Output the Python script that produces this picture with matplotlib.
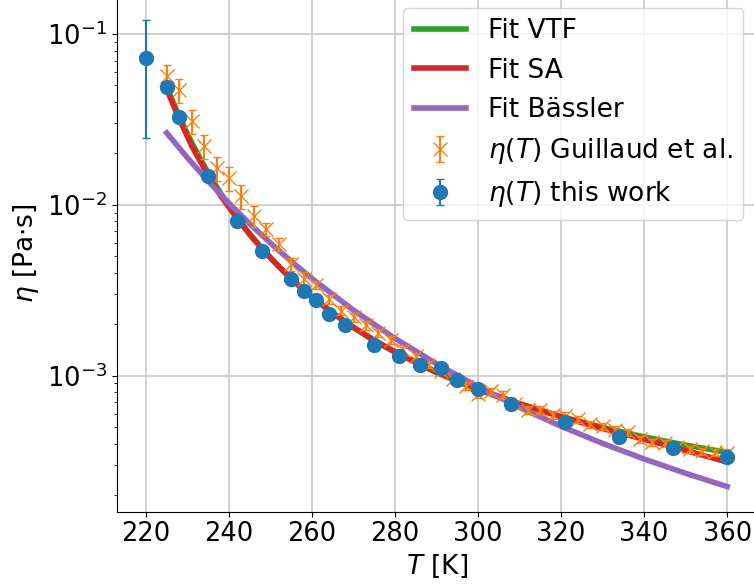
import matplotlib as mpl
mpl.use('Agg')
import matplotlib.pyplot as plt

# measured viscosity, this work
T_this = [220, 225, 228, 235, 242, 248, 255, 258, 261, 264, 268, 275, 281, 286,
          291, 295, 300, 308, 321, 334, 347, 360]
eta_this = [0.0726, 0.0487, 0.0327, 0.0147, 0.00809, 0.00536, 0.00369, 0.00312,
            0.00277, 0.00231, 0.00199, 0.00152, 0.00131, 0.00116, 0.00111,
            0.000937, 0.000839, 0.000679, 0.000536, 0.000440, 0.000376, 0.000336]
err_this = [0.048, 0.0015, 0.001, 0.0004, 0.0002, 0.00015, 0.0001, 0.00009,
            0.00008, 0.00007, 0.00006, 0.00005, 0.00004, 0.00004, 0.00003,
            0.00003, 0.00003, 0.00002, 0.00002, 0.00001, 0.00001, 0.00001]

# Guillaud et al.
T_gui = [225, 228, 231, 234, 237, 240, 243, 246, 249, 252, 255, 258, 261, 264,
         267, 270, 273, 276, 279, 282, 285, 288, 291, 294, 297, 300, 303, 306,
         309, 312, 315, 318, 321, 324, 327, 330, 333, 336, 339, 342, 345, 348,
         351, 354, 357, 360]
eta_gui = [0.057, 0.047, 0.031, 0.022, 0.0165, 0.0143, 0.0112, 0.0086, 0.0072,
           0.0059, 0.0045, 0.0037, 0.0034, 0.0028, 0.0024, 0.0022, 0.00197,
           0.00178, 0.00162, 0.00142, 0.0013, 0.00116, 0.00106, 0.00095,
           0.00087, 0.00078, 0.00081, 0.00077, 0.00068, 0.00063, 0.00063,
           0.00059, 0.00058, 0.000555, 0.00052, 0.000505, 0.00048, 0.000465,
           0.000425, 0.000408, 0.000402, 0.00038, 0.00037, 0.00036, 0.000355,
           0.000352]
relerr_gui = [0.16, 0.16, 0.16, 0.16, 0.16, 0.16, 0.16, 0.14, 0.09, 0.09, 0.09,
              0.09, 0.06, 0.06, 0.06, 0.06, 0.06, 0.06, 0.06, 0.06, 0.05, 0.05,
              0.05, 0.05, 0.05, 0.05, 0.05, 0.05, 0.05, 0.05, 0.05, 0.05, 0.05,
              0.05, 0.05, 0.05, 0.05, 0.05, 0.05, 0.05, 0.05, 0.05, 0.05, 0.05,
              0.05, 0.05]
err_gui = [e * r for e, r in zip(eta_gui, relerr_gui)]

# fit curves
T_fit = [225, 228, 231, 235, 238, 242, 245, 248, 252, 256, 260, 265, 270, 275,
         280, 290, 300, 310, 320, 330, 340, 350, 360]
eta_vtf = [0.0491, 0.0330, 0.0232, 0.01535, 0.01167, 0.00843, 0.00677, 0.00555,
           0.00436, 0.00351, 0.00289, 0.00232, 0.00191, 0.00160, 0.00137,
           0.00104, 0.000826, 0.000681, 0.000576, 0.000498, 0.000438,
           0.000392, 0.000355]
eta_sa = [0.0475, 0.0320, 0.0222, 0.0148, 0.0113, 0.0083, 0.0067, 0.0055,
          0.00435, 0.0035, 0.00289, 0.00233, 0.00192, 0.00161, 0.00138,
          0.00105, 0.000835, 0.000685, 0.000575, 0.000490, 0.000424,
          0.000365, 0.000312]
T_bas = [225, 230, 235, 240, 245, 250, 255, 260, 270, 280, 290, 300, 310, 320,
         330, 340, 350, 360]
eta_bas = [0.0264, 0.01887, 0.01376, 0.01023, 0.00775, 0.00597, 0.00467,
           0.00370, 0.002417, 0.001651, 0.001173, 0.000861, 0.000651,
           0.000505, 0.000401, 0.000325, 0.000268, 0.000224]

fig = plt.figure(figsize=(7.54, 5.86), dpi=100)
ax = fig.add_axes([0.155, 0.127, 0.848, 0.882])

ax.plot(T_fit, eta_vtf, color='tab:green', lw=4, label='Fit VTF')
ax.plot(T_fit, eta_sa, color='tab:red', lw=4, label='Fit SA')
ax.plot(T_bas, eta_bas, color='tab:purple', lw=4, label='Fit Bässler')
ax.errorbar(T_gui, eta_gui, yerr=err_gui, fmt='x', color='tab:orange',
            ms=10, capsize=3, label=r'$\eta(T)$ Guillaud et al.')
ax.errorbar(T_this, eta_this, yerr=err_this, fmt='o', color='tab:blue',
            ms=10, capsize=3, label=r'$\eta(T)$ this work')

ax.set_yscale('log')
ax.set_xlim(213, 367)
ax.set_ylim(1.6e-4, 0.17)
ax.set_xticks([220, 240, 260, 280, 300, 320, 340, 360])
ax.grid(True, which='major', color='#c8c8c8', lw=1.2)
ax.tick_params(labelsize=18.5)
ax.set_xlabel(r'$T$ [K]', fontsize=19)
ax.set_ylabel(r'$\eta$ [Pa$\cdot$s]', fontsize=19)
ax.legend(loc='upper right', fontsize=19)

fig.savefig('out.png', dpi=100)
